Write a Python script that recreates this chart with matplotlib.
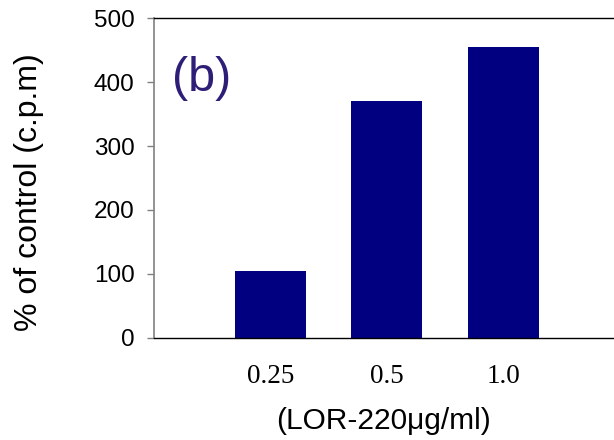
import matplotlib
matplotlib.use("Agg")
import matplotlib.pyplot as plt

categories = ["0.25", "0.5", "1.0"]
values = [105, 371, 455]
yticks = [0, 100, 200, 300, 400, 500]

fig = plt.figure(figsize=(6.14, 4.40), dpi=100)
ax = fig.add_axes([154/614, 1 - 337.7/440, 1 - 154/614, (337.7 - 18.3)/440])

pos = list(range(1, len(categories) + 1))
ax.bar(pos, values, width=0.61, color="#000080", edgecolor="none")

ax.set_xlim(0, 3.95)
ax.set_ylim(0, 500)
ax.set_yticks(yticks)
ax.set_yticklabels([str(t) for t in yticks], fontfamily="Liberation Sans", fontsize=17.5)
ax.set_xticks(pos)
ax.set_xticklabels(categories, fontfamily="Liberation Serif", fontsize=19.5)
ax.tick_params(axis="x", length=0, pad=19)
ax.tick_params(axis="y", length=5, width=1, color="#808080", pad=9)

ax.spines["right"].set_visible(False)
ax.spines["left"].set_color("#808080")
ax.spines["left"].set_linewidth(1.2)
ax.spines["top"].set_color("black")
ax.spines["bottom"].set_color("black")
ax.spines["top"].set_linewidth(1.0)
ax.spines["bottom"].set_linewidth(1.0)

ax.set_xlabel("(LOR-220\u03bcg/ml)", fontfamily="Liberation Sans", fontsize=21.5)
ax.xaxis.set_label_coords(0.5, (337.7 - 420.5) / 319.4)
ax.xaxis.label.set_va("center")

ax.set_ylabel("% of control (c.p.m)", fontfamily="Liberation Sans", fontsize=23)
ax.yaxis.set_label_coords((29 - 154) / 460, (337.7 - 192.5) / 319.4)
ax.yaxis.label.set_va("center")

ax.text(0.04, 0.813, "(b)", transform=ax.transAxes, fontfamily="Liberation Sans",
        fontsize=35, color="#2E1E78", va="center", ha="left")

fig.savefig("out.png", dpi=100)
